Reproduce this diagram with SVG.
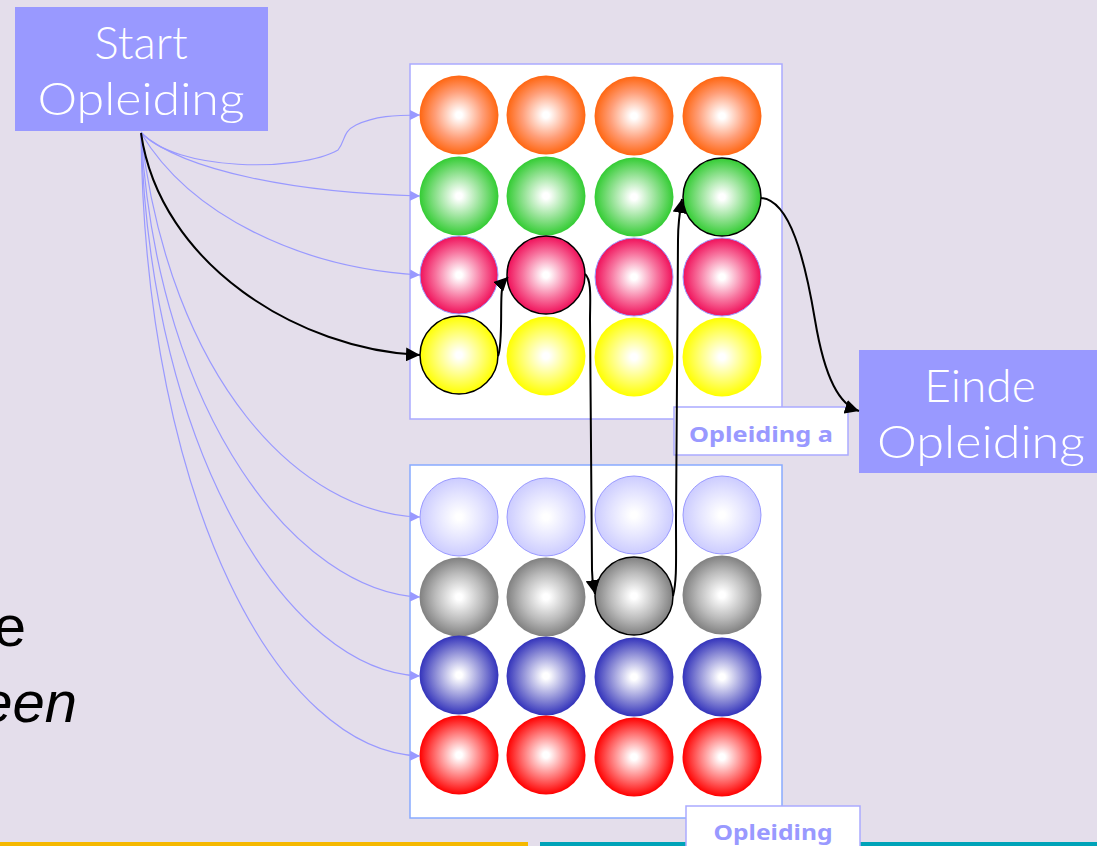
<svg xmlns="http://www.w3.org/2000/svg" width="1097" height="846" viewBox="0 0 1097 846">
<style>
.bg{fill:#E4DEEB}
.term{fill:#9999FF}
.termtxt{fill:#FFFFFF;font-family:Lato,"Liberation Sans",sans-serif;font-weight:300;font-size:46px;text-anchor:middle}
.panelA{fill:#FFFFFF;stroke:#AAAAFF;stroke-width:1.5}
.panelB{fill:#FFFFFF;stroke:#88AAFF;stroke-width:1.5}
.lbl{fill:#FFFFFF;stroke:#AAAAFF;stroke-width:1.5}
.lbltxt{fill:#9999FF;font-family:"Noto Sans","Liberation Sans",sans-serif;font-weight:bold;font-size:22px;text-anchor:middle}
.side{fill:#000;font-family:"Liberation Sans",Arial,sans-serif;font-size:58px;text-anchor:end}
.cb{fill:none;stroke:#9999FF;stroke-width:1.2}
.ck{fill:none;stroke:#000;stroke-width:2}
.sel{stroke:#000;stroke-width:1.5}
.pk{stroke:#9999FF;stroke-width:1}
.lv{stroke:#9999FF;stroke-width:1}
.s0{stop-color:#fff}
</style>
<defs>
<radialGradient id="gO"><stop offset="0.08" class="s0"/><stop offset="0.6" stop-color="#FF9E78"/><stop offset="1" stop-color="#FF6611"/></radialGradient>
<radialGradient id="gG"><stop offset="0.08" class="s0"/><stop offset="0.6" stop-color="#8CE08C"/><stop offset="1" stop-color="#33CC33"/></radialGradient>
<radialGradient id="gP"><stop offset="0.08" class="s0"/><stop offset="0.6" stop-color="#F7739E"/><stop offset="1" stop-color="#F0105A"/></radialGradient>
<radialGradient id="gY"><stop offset="0.08" class="s0"/><stop offset="0.6" stop-color="#FFFF70"/><stop offset="1" stop-color="#FFFF00"/></radialGradient>
<radialGradient id="gL"><stop offset="0.08" class="s0"/><stop offset="0.6" stop-color="#E3E3FF"/><stop offset="1" stop-color="#CCCCFF"/></radialGradient>
<radialGradient id="gS"><stop offset="0.08" class="s0"/><stop offset="0.6" stop-color="#BBBBBB"/><stop offset="1" stop-color="#808080"/></radialGradient>
<radialGradient id="gB"><stop offset="0.08" class="s0"/><stop offset="0.6" stop-color="#8C8CD6"/><stop offset="1" stop-color="#3333BB"/></radialGradient>
<radialGradient id="gR"><stop offset="0.08" class="s0"/><stop offset="0.6" stop-color="#FF7070"/><stop offset="1" stop-color="#FF0000"/></radialGradient>
<marker id="ab" viewBox="0 0 10 10" refX="10" refY="5" markerWidth="10" markerHeight="10" markerUnits="userSpaceOnUse" orient="auto"><path d="M0,0 L10,5 L0,10 z" fill="#9999FF"/></marker>
<marker id="ak" viewBox="0 0 10 10" refX="10" refY="5" markerWidth="14" markerHeight="14" markerUnits="userSpaceOnUse" orient="auto"><path d="M0,0 L10,5 L0,10 z" fill="#000"/></marker>
</defs>
<rect class="bg" x="0" y="0" width="1097" height="846"/>
<rect x="0" y="842" width="528" height="4" fill="#F5B800"/>
<rect x="540" y="842" width="557" height="4" fill="#00A3B8"/>
<text class="side" x="26" y="646">e</text>
<text class="side" x="77" y="722" font-style="italic">een</text>

<g id="panel-a">
<rect class="panelA" x="410" y="64" width="372" height="355"/>
<circle cx="459" cy="115" r="39.5" fill="url(#gO)"/>
<circle cx="546" cy="115" r="39.5" fill="url(#gO)"/>
<circle cx="634" cy="116" r="39.5" fill="url(#gO)"/>
<circle cx="722" cy="116" r="39.5" fill="url(#gO)"/>
<circle cx="459" cy="196" r="39.5" fill="url(#gG)"/>
<circle cx="546" cy="196" r="39.5" fill="url(#gG)"/>
<circle cx="634" cy="197" r="39.5" fill="url(#gG)"/>
<circle cx="722" cy="197" r="39" fill="url(#gG)" class="sel"/>
<circle cx="459" cy="275" r="39" fill="url(#gP)" class="pk"/>
<circle cx="546" cy="275" r="39" fill="url(#gP)" class="sel"/>
<circle cx="634" cy="277" r="39" fill="url(#gP)" class="pk"/>
<circle cx="722" cy="277" r="39" fill="url(#gP)" class="pk"/>
<circle cx="459" cy="355" r="39" fill="url(#gY)" class="sel"/>
<circle cx="546" cy="356" r="39.5" fill="url(#gY)"/>
<circle cx="634" cy="357" r="39.5" fill="url(#gY)"/>
<circle cx="722" cy="357" r="39.5" fill="url(#gY)"/>
</g>
<g id="panel-b">
<rect class="panelB" x="410" y="465" width="372" height="353"/>
<circle cx="459" cy="517" r="39" fill="url(#gL)" class="lv"/>
<circle cx="546" cy="517" r="39" fill="url(#gL)" class="lv"/>
<circle cx="634" cy="515" r="39" fill="url(#gL)" class="lv"/>
<circle cx="722" cy="515" r="39" fill="url(#gL)" class="lv"/>
<circle cx="459" cy="597" r="39.5" fill="url(#gS)"/>
<circle cx="546" cy="597" r="39.5" fill="url(#gS)"/>
<circle cx="634" cy="596" r="39" fill="url(#gS)" class="sel"/>
<circle cx="722" cy="595" r="39.5" fill="url(#gS)"/>
<circle cx="459" cy="675" r="39.5" fill="url(#gB)"/>
<circle cx="546" cy="676" r="39.5" fill="url(#gB)"/>
<circle cx="634" cy="677" r="39.5" fill="url(#gB)"/>
<circle cx="722" cy="677" r="39.5" fill="url(#gB)"/>
<circle cx="459" cy="755" r="39.5" fill="url(#gR)"/>
<circle cx="546" cy="755" r="39.5" fill="url(#gR)"/>
<circle cx="634" cy="757" r="39.5" fill="url(#gR)"/>
<circle cx="722" cy="757" r="39.5" fill="url(#gR)"/>
</g>
<g id="label-a">
<rect class="lbl" x="674" y="407" width="174" height="48"/>
<text class="lbltxt" x="761" y="442" textLength="144" lengthAdjust="spacingAndGlyphs">Opleiding a</text>
</g>
<g id="label-b">
<rect class="lbl" x="686" y="806" width="174" height="48"/>
<text class="lbltxt" x="773" y="840" textLength="119" lengthAdjust="spacingAndGlyphs">Opleiding</text>
</g>
<g id="start">
<rect class="term" x="15" y="7" width="253" height="124"/>
<text class="termtxt" x="141" y="59">Start</text>
<text class="termtxt" x="141" y="115" textLength="207" lengthAdjust="spacingAndGlyphs">Opleiding</text>
</g>
<g id="einde">
<rect class="term" x="859" y="350" width="238" height="123"/>
<text class="termtxt" x="980" y="402">Einde</text>
<text class="termtxt" x="981" y="458" textLength="208" lengthAdjust="spacingAndGlyphs">Opleiding</text>
</g>
<g id="connectors">
<path class="cb" marker-end="url(#ab)" d="M141,132 C175,172 300,172 338,150 C346,140 342,132 356,125 C375,116 395,115 420,115"/>
<path class="cb" marker-end="url(#ab)" d="M141,133 C185,172 300,193 420,196"/>
<path class="cb" marker-end="url(#ab)" d="M141,133 C190,215 300,268 420,275"/>
<path class="cb" marker-end="url(#ab)" d="M141,133 C170,380 300,514 420,517"/>
<path class="cb" marker-end="url(#ab)" d="M141,133 C158,420 300,592 420,597"/>
<path class="cb" marker-end="url(#ab)" d="M141,133 C150,455 290,672 420,676"/>
<path class="cb" marker-end="url(#ab)" d="M141,133 C145,505 280,752 420,756"/>
<path class="ck" marker-end="url(#ak)" d="M141,133 C160,265 300,350 420,355"/>
<path class="ck" marker-end="url(#ak)" d="M498,356 C503,345 500,300 502,290 C503,284 505,280 508,277"/>
<path class="ck" marker-end="url(#ak)" d="M585,274 C592,280 590,300 590,320 L592,570 C592,582 594,588 595,594"/>
<path class="ck" marker-end="url(#ak)" d="M673,596 C677,580 676,560 676,520 L678,240 C678,222 680,210 682,199"/>
<path class="ck" marker-end="url(#ak)" d="M761,198 C790,200 805,260 815,320 C825,380 840,405 859,411"/>
</g>
</svg>
